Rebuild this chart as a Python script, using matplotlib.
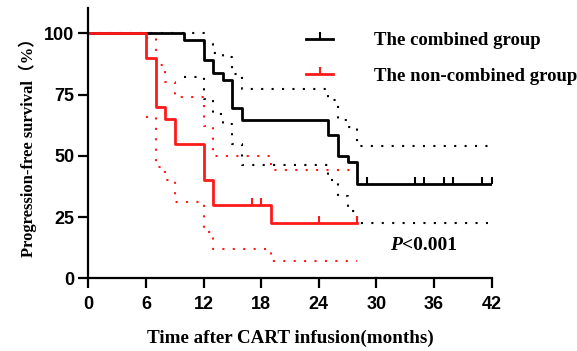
import matplotlib
matplotlib.use('Agg')
import matplotlib.pyplot as plt
from matplotlib.lines import Line2D

# step curves (time in months, survival in %)
comb_t = [0, 10, 12, 13, 14, 15, 16, 25, 26, 27, 28, 42]
comb_s = [100, 97.4, 89, 83.8, 81.1, 69.7, 64.5, 58.4, 49.8, 47.5, 38.6, 38.6]
comb_up_t = [0, 12, 13, 14, 15, 16, 25, 26, 27, 28, 42]
comb_up_s = [100, 95.5, 92.1, 90.5, 83.3, 77.1, 72.6, 64.5, 61.6, 53.9, 53.9]
comb_lo_t = [10, 12, 13, 14, 15, 16, 25, 26, 27, 28, 42]
comb_lo_s = [82.2, 73.3, 67.0, 63.0, 55.0, 46.1, 40.0, 33.5, 27.5, 22.6, 22.6]
comb_cens = [29, 34, 35, 37, 38, 41, 42]

non_t = [0, 6, 7, 8, 9, 12, 13, 19, 28]
non_s = [100, 90, 70, 65, 55, 40, 30, 22.5, 22.5]
non_up_t = [6, 7, 8, 9, 12, 13, 19, 28]
non_up_s = [98, 87, 80, 74, 62, 50, 44, 44]
non_lo_t = [6, 7, 8, 9, 12, 13, 19, 28]
non_lo_s = [66, 45.5, 40.3, 31, 19, 12, 7, 7]
non_cens = [17, 18, 24, 28]

xticks = [0, 6, 12, 18, 24, 30, 36, 42]
yticks = [0, 25, 50, 75, 100]

def surv_at(ts, ss, t):
    v = ss[0]
    for a, b in zip(ts, ss):
        if a <= t:
            v = b
    return v

fig = plt.figure(figsize=(5.77, 3.51), dpi=100, facecolor='white')
ax = fig.add_axes([88.3/577, 1-278.3/351, 403.2/577, 270/351])

red = '#ff1a1a'
dot = (0, (1, 4))
ax.plot(comb_up_t, comb_up_s, drawstyle='steps-post', color='black', lw=1.5, ls=dot)
ax.plot(comb_lo_t, comb_lo_s, drawstyle='steps-post', color='black', lw=1.5, ls=dot)
ax.plot(non_up_t, non_up_s, drawstyle='steps-post', color=red, lw=1.5, ls=dot)
ax.plot(non_lo_t, non_lo_s, drawstyle='steps-post', color=red, lw=1.5, ls=dot)

ax.plot(comb_t, comb_s, drawstyle='steps-post', color='black', lw=2)
ax.plot(non_t, non_s, drawstyle='steps-post', color=red, lw=2)
ax.plot(comb_cens, [surv_at(comb_t, comb_s, t) for t in comb_cens], ls='none',
        marker=2, ms=5, mew=1.5, color='black')
ax.plot(non_cens, [surv_at(non_t, non_s, t) for t in non_cens], ls='none',
        marker=2, ms=5, mew=1.5, color=red)

ax.set_xlim(0, 42)
ax.set_ylim(0, 110.2)
ax.set_xticks(xticks)
ax.set_yticks(yticks)
for s in ['top', 'right']:
    ax.spines[s].set_visible(False)
for s in ['left', 'bottom']:
    ax.spines[s].set_linewidth(1.6)
ax.tick_params(direction='out', length=7, width=1.6)
ax.tick_params(axis='x', pad=6)
ax.tick_params(axis='y', pad=3)
for lab in ax.get_xticklabels() + ax.get_yticklabels():
    lab.set_fontfamily('Liberation Sans')
    lab.set_fontweight('bold')
    lab.set_fontsize(13)

ax.set_xlabel('Time after CART infusion(months)', family='Liberation Serif',
              weight='bold', fontsize=13.7, labelpad=12)
ax.set_ylabel('Progression-free survival（%）', family=['Liberation Serif', 'Noto Sans CJK SC'],
              weight='bold', fontsize=12, labelpad=5)

handles = [Line2D([], [], color='black', lw=2, marker=2, ms=5, mew=1.5),
           Line2D([], [], color=red, lw=2, marker=2, ms=5, mew=1.5)]
leg = ax.legend(handles, ['The combined group', 'The non-combined group'],
                loc='upper left', bbox_to_anchor=(306/577, 1-32/351),
                bbox_transform=fig.transFigure, frameon=False, numpoints=1,
                handlelength=1.45, handletextpad=2.15, labelspacing=1.0,
                borderpad=0, borderaxespad=0,
                prop={'family': 'Liberation Serif', 'weight': 'bold', 'size': 13.5})

t1 = ax.text(31.4, 13.2, 'P', family='Liberation Serif', weight='bold', style='italic',
             fontsize=14, va='center', ha='left')
ax.annotate('<0.001', xy=(1, 0), xycoords=t1, va='bottom', ha='left',
            family='Liberation Serif', weight='bold', fontsize=14)

fig.savefig('out.png', dpi=100, facecolor='white')
